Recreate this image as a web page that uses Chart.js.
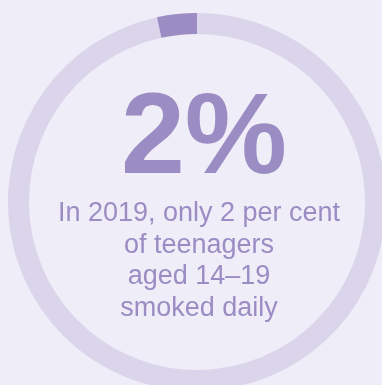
<!DOCTYPE html>
<html>
<head>
<meta charset="utf-8">
<script src="https://cdn.jsdelivr.net/npm/chart.js@4"></script>
<style>
  html, body { margin:0; padding:0; width:382px; height:385px; overflow:hidden; background:#efedf7; }
  #wrap { position:relative; width:382px; height:385px; overflow:hidden; }
  canvas#c { position:absolute; left:-3px; top:2px; }
  .t { position:absolute; left:0; text-align:center; color:#9b8dc4; font-family:"Liberation Sans", Arial, sans-serif; white-space:nowrap; }
  #big { top:76px; width:408px; font-size:115px; line-height:115px; font-weight:bold; }
  #lines { top:197px; width:398px; font-size:27px; line-height:31.5px; }
</style>
</head>
<body>
<div id="wrap">
  <canvas id="c" width="400" height="400"></canvas>
  <div class="t" id="big"></div>
  <div class="t" id="lines"></div>
</div>
<script>
// Data
const categories = ['Other', 'Smoked daily'];
const values = [96.6, 3.4];
const headline = '2%';
const captionLines = ['In 2019, only 2 per cent', 'of teenagers', 'aged 14\u201319', 'smoked daily'];

document.getElementById('big').textContent = headline;
document.getElementById('lines').innerHTML = captionLines.map(s => '<div>' + s + '</div>').join('');

new Chart(document.getElementById('c'), {
  type: 'doughnut',
  data: {
    labels: categories,
    datasets: [{
      data: values,
      backgroundColor: ['#dad5eb', '#9b8dc4'],
      borderWidth: 0,
      hoverOffset: 0
    }]
  },
  options: {
    responsive: false,
    devicePixelRatio: 1,
    animation: false,
    cutout: 168,
    rotation: 0,
    layout: { padding: 11 },
    plugins: { legend: { display: false }, tooltip: { enabled: false } }
  }
});
</script>
</body>
</html>
